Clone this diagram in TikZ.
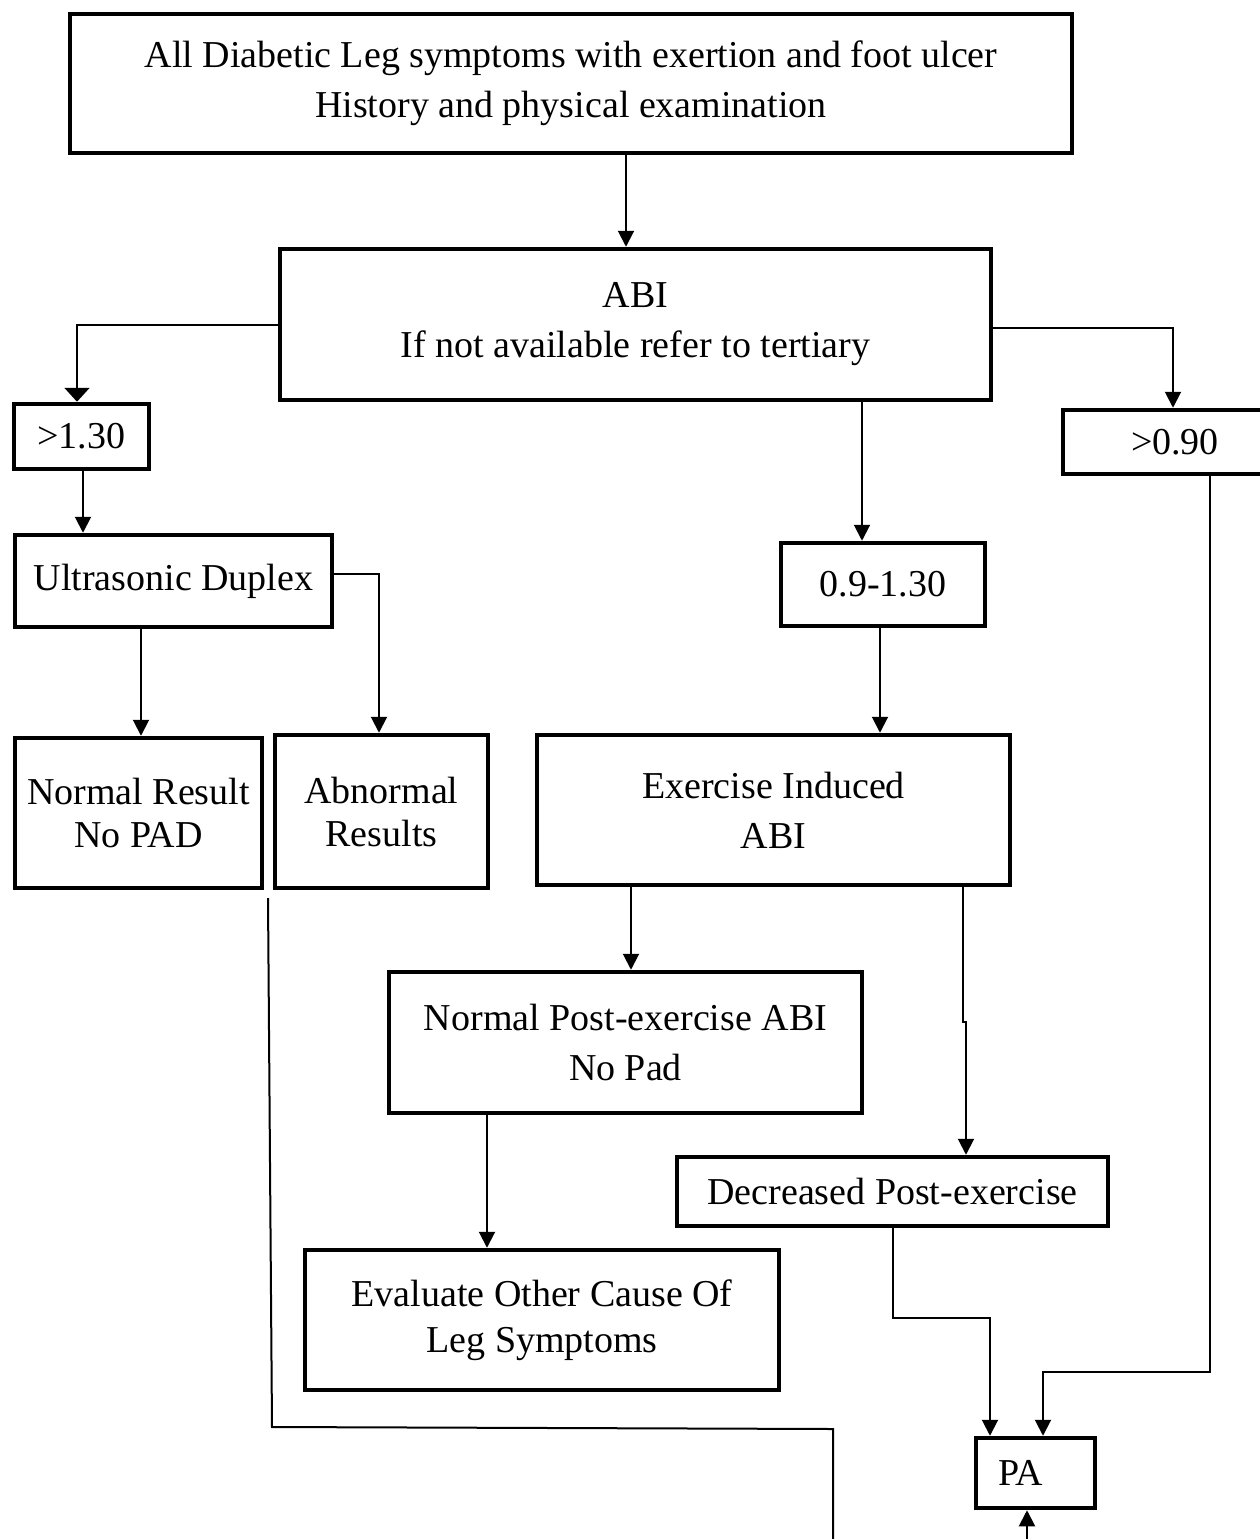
\documentclass[tikz,border=0pt]{standalone}
\usepackage{fontspec}
\setmainfont{Liberation Serif}
\usepackage{tikz}
\usetikzlibrary{arrows.meta, calc}
\tikzset{
  box/.style={
    draw,
    rectangle,
    line width=2.25pt,
    align=center,
    inner sep=2pt,
    font=\fontsize{19}{25}\selectfont
  },
  link/.style={
    -{Triangle[length=8pt, width=8pt]},
    line width=1pt
  },
  wide link/.style={
    -{Triangle[length=7pt, width=12.5pt]},
    line width=1pt
  },
  plain link/.style={
    -,
    line width=1pt
  }
}

\begin{document}
\begin{tikzpicture}[x=0.5pt, y=-0.5pt]
    % 1 unit = 1 pixel of the 1260 x 1539 sheet
    \useasboundingbox (0,0) rectangle (1260,1539);
    \clip (0,0) rectangle (1260,1539);

    % boxes
    \node[box, minimum width=501pt, minimum height=69.5pt] (start) at (571,83.5)
      {All Diabetic Leg symptoms with exertion and foot ulcer\\History and physical examination};
    \node[box, minimum width=355.5pt, minimum height=75.5pt] (abi) at (635.5,324.5)
      {ABI\\If not available refer to tertiary};
    \node[box, minimum width=67.5pt, minimum height=32.5pt] (gt130) at (81.5,436.5) {>1.30};
    \node[box, minimum width=112pt, minimum height=32pt] (gt090) at (1175,442) {>0.90};
    \node[box, minimum width=158.5pt, minimum height=46pt] (duplex) at (173.5,581) {Ultrasonic Duplex};
    \node[box, minimum width=102pt, minimum height=41.5pt] (mid) at (883,584.5) {0.9-1.30};
    \node[box, minimum width=123.5pt, minimum height=75pt, font=\fontsize{19}{21.5}\selectfont] (normal) at (138.5,813)
      {Normal Result\\No PAD};
    \node[box, minimum width=106.5pt, minimum height=76.5pt, font=\fontsize{19}{21.5}\selectfont] (abnormal) at (381.5,811.5)
      {Abnormal\\Results};
    \node[box, minimum width=236.5pt, minimum height=75pt] (exercise) at (773.5,810)
      {Exercise Induced\\ABI};
    \node[box, minimum width=236.5pt, minimum height=70.5pt] (npost) at (625.5,1042.5)
      {Normal Post-exercise ABI\\No Pad};
    \node[box, minimum width=215.5pt, minimum height=34.5pt] (decr) at (892.5,1191.5)
      {Decreased Post-exercise};
    \node[box, minimum width=237pt, minimum height=70pt, font=\fontsize{19}{23}\selectfont] (evaluate) at (542,1320)
      {Evaluate Other Cause Of\\Leg Symptoms};
    \node[box, minimum width=59.5pt, minimum height=35pt, inner xsep=11pt,
      text width=37.5pt, align=left] (pa) at (1035.5,1473) {PA};

    % ends of the lines that run off the sheet
    \coordinate (gapTop) at (268,898);
    \coordinate (gapBend) at (272,1427);
    \coordinate (gapTurn) at (833,1429);
    \coordinate (gapEnd) at (833,1545);
    \coordinate (paFeed) at (1027,1545);

    % connectors
    \draw[link] ([xshift=27.5pt]start.south) -- ([xshift=27.5pt]start.south |- abi.north);
    \draw[wide link] (abi.west) -| ([xshift=-2.25pt]gt130.north);
    \draw[link] ([yshift=-1.75pt]abi.east) -| ([xshift=-1pt]gt090.north);
    \draw[link] ([xshift=113.25pt]abi.south) -- ([xshift=113.25pt]abi.south |- mid.north);
    \draw[link] ([xshift=0.75pt]gt130.south) -- ([xshift=0.75pt]gt130.south |- duplex.north);
    \draw[link] ([yshift=3.5pt]duplex.east) -| ([xshift=-1.25pt]abnormal.north);
    \draw[link] ([xshift=-16.25pt]duplex.south) -- ([xshift=-16.25pt]duplex.south |- normal.north);
    \draw[link] ([xshift=-1.5pt]mid.south) -- ([xshift=-1.5pt]mid.south |- exercise.north);
    \draw[link] ([xshift=-71.25pt]exercise.south) -- ([xshift=-71.25pt]exercise.south |- npost.north);
    \draw[link] ([xshift=94.75pt]exercise.south) -- ++(0,135) coordinate (jog)
      -- ([xshift=36.75pt]decr.north |- jog) -- ([xshift=36.75pt]decr.north);
    \draw[link] ([xshift=-69.25pt]npost.south) -- ([xshift=-69.25pt]npost.south |- evaluate.north);
    \draw[link] (decr.south) -- ++(0,90) -| ([xshift=-22.75pt]pa.north);
    \draw[link] ([xshift=17.5pt]gt090.south) -- ++(0,896) -| ([xshift=3.75pt]pa.north);
    \draw[plain link] (gapTop) -- (gapBend) -- (gapTurn) -- (gapEnd);
    \draw[link] (paFeed) -- ([xshift=-4.25pt]pa.south);

\end{tikzpicture}
\end{document}
